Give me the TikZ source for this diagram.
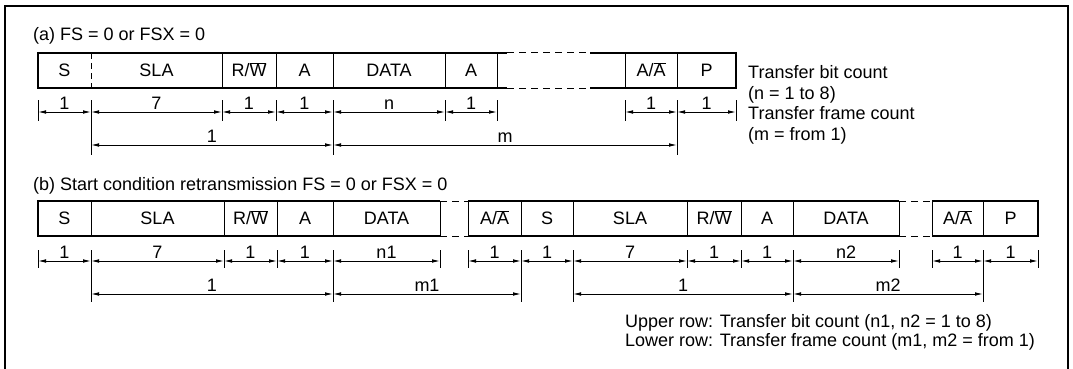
\documentclass[tikz,border=0pt]{standalone}
\usepackage{fontspec}
\setmainfont{Liberation Sans}
\usetikzlibrary{arrows.meta}
\begin{document}
\begin{tikzpicture}[x=1pt,y=-1pt,
  font=\fontsize{18}{21}\selectfont,
  boxline/.style={line width=2.4pt},
  divline/.style={line width=1pt},
  gapline/.style={line width=1pt, dash pattern=on 7pt off 5pt},
  divdash/.style={line width=1pt, dash pattern=on 6pt off 4pt},
  dimline/.style={line width=0.9pt, {Latex[length=8pt,width=3.6pt]}-{Latex[length=8pt,width=3.6pt]}},
  tickline/.style={line width=0.9pt},
  dimlbl/.style={anchor=base, yshift=3pt, inner sep=0pt},
  fld/.style={inner sep=0pt, text height=12.9pt, text depth=0pt},
  note/.style={anchor=base west, inner sep=0pt},
  framel/.style={line width=1.6pt}]
\useasboundingbox (0,0) rectangle (1073,369);
% outer frame
\draw[framel] (5,369) -- (5,6) -- (1068,6) -- (1068,369);

% ================= (a) =================
\node[note] (tita) at (33,41) {(a) FS = 0 or FSX = 0};
% box outline
\draw[boxline] (38,53) -- (507,53);
\draw[boxline] (38,88) -- (507,88);
\draw[boxline] (590,53) -- (736,53);
\draw[boxline] (590,88) -- (736,88);
\draw[gapline] (507,53) -- (590,53);
\draw[gapline] (507,88) -- (590,88);
\draw[boxline] (38,52) -- (38,89);
\draw[boxline] (736,52) -- (736,89);
\draw[divdash] (91,53) -- (91,88);
\foreach \x in {222,276,333,445,497,625,677} \draw[divline] (\x,53) -- (\x,88);
% field texts
\node[fld] (aS)   at (64.5,70.5) {S};
\node[fld] (aSLA) at (156.5,70.5) {SLA};
\node[fld] (aRW)  at (249,70.5) {R/$\overline{\hbox{W}}$};
\node[fld] (aA1)  at (304.5,70.5) {A};
\node[fld] (aDAT) at (389,70.5) {DATA};
\node[fld] (aA2)  at (471,70.5) {A};
\node[fld] (aAA)  at (651,70.5) {A/$\overline{\hbox{A}}$};
\node[fld] (aP)   at (706.5,70.5) {P};
% dimension row 1
\foreach \n/\x in {0/38,1/91,2/222,3/276,4/333,5/445,6/497,7/625,8/677,9/736}
  \coordinate (a\n) at (\x,112);
\foreach \n in {0,2,3,5,6,7,9}
  \draw[tickline] ([yshift=12pt]a\n) -- ([yshift=-9pt]a\n);
\foreach \n in {1,4,8}
  \draw[tickline] ([yshift=12pt]a\n) -- ([yshift=-43pt]a\n);
\foreach \p/\q/\t in {0/1/1,1/2/7,2/3/1,3/4/1,4/5/n,5/6/1,7/8/1,8/9/1}
  \draw[dimline] (a\p) -- node[dimlbl] {\t} (a\q);
% dimension row 2
\coordinate (A1) at (91,145);
\coordinate (A2) at (333,145);
\coordinate (A3) at (677,145);
\draw[dimline] (A1) -- node[dimlbl] {1} (A2);
\draw[dimline] (A2) -- node[dimlbl] {m} (A3);
% notes
\node[note] (na1) at (748,78.5) {Transfer bit count};
\node[note] (na2) at (748,99.5) {(n = 1 to 8)};
\node[note] (na3) at (748,119.5) {Transfer frame count};
\node[note] (na4) at (748,140.5) {(m = from 1)};

% ================= (b) =================
\node[note] (titb) at (33,190) {(b) Start condition retransmission FS = 0 or FSX = 0};
\draw[boxline] (38,201) -- (440,201);
\draw[boxline] (38,236) -- (440,236);
\draw[boxline] (468,201) -- (899,201);
\draw[boxline] (468,236) -- (899,236);
\draw[boxline] (932,201) -- (1038,201);
\draw[boxline] (932,236) -- (1038,236);
\draw[gapline] (440,201) -- (468,201);
\draw[gapline] (440,236) -- (468,236);
\draw[gapline] (899,201) -- (932,201);
\draw[gapline] (899,236) -- (932,236);
\draw[boxline] (38,200) -- (38,237);
\draw[boxline] (1038,200) -- (1038,237);
\foreach \x in {91,224,277,333,440,468,521,573,687,741,793,899,932,983} \draw[divline] (\x,201) -- (\x,236);
\node[fld] (bS1)  at (64.5,218.5) {S};
\node[fld] (bSL1) at (157.5,218.5) {SLA};
\node[fld] (bRW1) at (250.5,218.5) {R/$\overline{\hbox{W}}$};
\node[fld] (bA1)  at (305,218.5) {A};
\node[fld] (bD1)  at (386.5,218.5) {DATA};
\node[fld] (bAA1) at (494.5,218.5) {A/$\overline{\hbox{A}}$};
\node[fld] (bS2)  at (547,218.5) {S};
\node[fld] (bSL2) at (630,218.5) {SLA};
\node[fld] (bRW2) at (714,218.5) {R/$\overline{\hbox{W}}$};
\node[fld] (bA2)  at (767,218.5) {A};
\node[fld] (bD2)  at (846,218.5) {DATA};
\node[fld] (bAA2) at (957.5,218.5) {A/$\overline{\hbox{A}}$};
\node[fld] (bP)   at (1010.5,218.5) {P};
% dimension row 1
\foreach \n/\x in {0/38,1/91,2/224,3/277,4/333,5/440,6/468,7/521,8/573,9/687,10/741,11/793,12/899,13/932,14/983,15/1038}
  \coordinate (b\n) at (\x,261);
\foreach \n in {0,2,3,5,6,9,10,12,13,15}
  \draw[tickline] ([yshift=11pt]b\n) -- ([yshift=-7pt]b\n);
\foreach \n in {1,4,7,8,11,14}
  \draw[tickline] ([yshift=11pt]b\n) -- ([yshift=-41pt]b\n);
\foreach \p/\q/\t in {0/1/1,1/2/7,2/3/1,3/4/1,4/5/n1,6/7/1,7/8/1,8/9/7,9/10/1,10/11/1,11/12/n2,13/14/1,14/15/1}
  \draw[dimline] (b\p) -- node[dimlbl] {\t} (b\q);
% dimension row 2
\coordinate (B1) at (91,294);
\coordinate (B2) at (333,294);
\coordinate (B3) at (521,294);
\coordinate (B4) at (573,294);
\coordinate (B5) at (793,294);
\coordinate (B6) at (983,294);
\draw[dimline] (B1) -- node[dimlbl] {1} (B2);
\draw[dimline] (B2) -- node[dimlbl] {m1} (B3);
\draw[dimline] (B4) -- node[dimlbl] {1} (B5);
\draw[dimline] (B5) -- node[dimlbl] {m2} (B6);
% notes
\node[note] (nb1) at (625,327) {Upper row: Transfer bit count (n1, n2 = 1 to 8)};
\node[note] (nb2) at (625,346) {Lower row: Transfer frame count (m1, m2 = from 1)};
\end{tikzpicture}
\end{document}
